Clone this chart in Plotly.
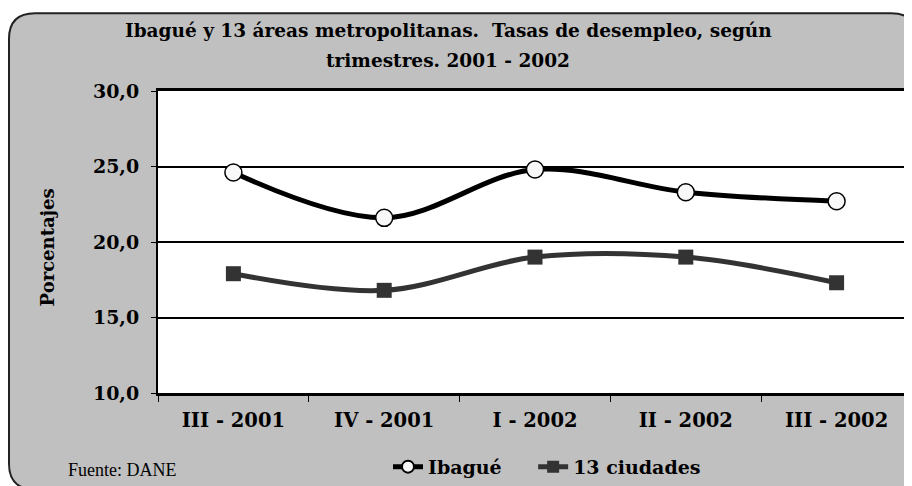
import plotly.graph_objects as go

# Data
trimestres = ["III - 2001", "IV - 2001", "I - 2002", "II - 2002", "III - 2002"]
ibague = [24.6, 21.6, 24.8, 23.3, 22.7]
ciudades = [17.9, 16.8, 19.0, 19.0, 17.3]
y_ticks = [10, 15, 20, 25, 30]
y_tick_labels = ["10,0", "15,0", "20,0", "25,0", "30,0"]

# page body has an 8px margin, so the figure is a bit smaller than the window
OFF = 8
W, H = 912 - OFF, 486 - OFF
PLOT_L, PLOT_R, PLOT_T, PLOT_B = 158, 912, 91, 398   # window pixels
ML, MR, MT, MB = PLOT_L - OFF, 912 - PLOT_R, PLOT_T - OFF, 486 - PLOT_B

SERIF = "DejaVu Serif"


def px_x(p):
    return (p - PLOT_L) / (PLOT_R - PLOT_L)


def px_y(p):
    return (PLOT_B - p) / (PLOT_B - PLOT_T)


def rounded_rect(x0, y0, x1, y1, r):
    X, Y = px_x, px_y
    return (f"M {X(x0 + r)},{Y(y0)} L {X(x1 - r)},{Y(y0)} "
            f"Q {X(x1)},{Y(y0)} {X(x1)},{Y(y0 + r)} "
            f"L {X(x1)},{Y(y1 - r)} Q {X(x1)},{Y(y1)} {X(x1 - r)},{Y(y1)} "
            f"L {X(x0 + r)},{Y(y1)} Q {X(x0)},{Y(y1)} {X(x0)},{Y(y1 - r)} "
            f"L {X(x0)},{Y(y0 + r)} Q {X(x0)},{Y(y0)} {X(x0 + r)},{Y(y0)} Z")


fig = go.Figure()

fig.add_trace(go.Scatter(
    x=trimestres, y=ibague, name="Ibagué\u00a0\u00a0\u00a0\u00a0",
    mode="lines+markers",
    line=dict(color="black", width=5, shape="spline", smoothing=1.0),
    marker=dict(symbol="circle", size=17, color="#f8f8f8",
                line=dict(color="black", width=1.5)),
))
fig.add_trace(go.Scatter(
    x=trimestres, y=ciudades, name="13 ciudades",
    mode="lines+markers",
    line=dict(color="#333333", width=5, shape="spline", smoothing=1.0),
    marker=dict(symbol="square", size=15, color="#333333"),
))

shapes = [
    dict(type="path", xref="paper", yref="paper", layer="below",
         path=rounded_rect(9, 12, 917, 496, 26),
         fillcolor="#c0c0c0", line=dict(color="#222222", width=2)),
    dict(type="rect", xref="x domain", yref="y domain", layer="below",
         x0=0, x1=1, y0=0, y1=1, fillcolor="white", line=dict(width=0)),
]

annotations = [
    dict(text="Ibagué y 13 áreas metropolitanas.  Tasas de desempleo, según",
         xref="paper", yref="paper", x=px_x(448), y=px_y(30),
         xanchor="center", yanchor="middle", showarrow=False,
         font=dict(family=SERIF, size=18.5, color="black", weight="bold")),
    dict(text="trimestres. 2001 - 2002",
         xref="paper", yref="paper", x=px_x(448), y=px_y(60),
         xanchor="center", yanchor="middle", showarrow=False,
         font=dict(family=SERIF, size=18.5, color="black", weight="bold")),
    dict(text="Porcentajes", xref="paper", yref="paper",
         x=px_x(47), y=px_y(250), xanchor="center", yanchor="middle",
         textangle=-90, showarrow=False,
         font=dict(family=SERIF, size=18, color="black", weight="bold")),
    dict(text="Fuente: DANE", xref="paper", yref="paper",
         x=px_x(66), y=px_y(476), xanchor="left", yanchor="middle",
         showarrow=False,
         font=dict(family="Liberation Serif", size=18, color="black")),
]

fig.update_layout(
    width=W, height=H,
    margin=dict(l=ML, r=MR, t=MT, b=MB),
    paper_bgcolor="white",
    plot_bgcolor="rgba(0,0,0,0)",
    shapes=shapes,
    annotations=annotations,
    showlegend=True,
    legend=dict(orientation="h", x=px_x(388), xanchor="left",
                y=px_y(473), yanchor="middle", bgcolor="rgba(0,0,0,0)",
                font=dict(family=SERIF, size=19, color="black", weight="bold"),
                itemsizing="constant", tracegroupgap=0),
    xaxis=dict(
        type="category", range=[-0.5, 4.5],
        showgrid=False, showline=True, linecolor="black", linewidth=2.5,
        mirror=True, ticks="outside", tickson="boundaries", ticklen=6,
        tickcolor="black", tickwidth=1,
        tickfont=dict(family=SERIF, size=19.5, color="black", weight="bold"),
        ticklabelstandoff=8,
    ),
    yaxis=dict(
        range=[10, 30], tickvals=y_ticks, ticktext=y_tick_labels,
        showgrid=True, gridcolor="black", gridwidth=1.5,
        showline=True, linecolor="black", linewidth=2,
        ticks="outside", ticklen=5, tickcolor="black", tickwidth=1,
        tickfont=dict(family=SERIF, size=19, color="black", weight="bold"),
        ticklabelstandoff=8,
        zeroline=False,
    ),
)

fig.write_html("out.html")
